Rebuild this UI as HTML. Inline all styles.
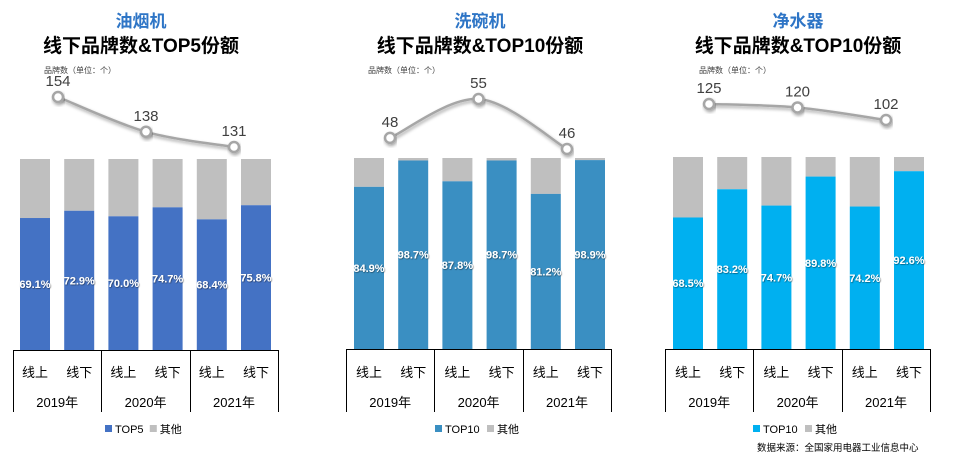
<!DOCTYPE html>
<html><head><meta charset="utf-8">
<style>
html,body{margin:0;padding:0;background:#fff;}
svg{display:block;font-family:"Liberation Sans","Noto Sans CJK SC",sans-serif;}
</style></head>
<body>
<svg id="c" width="956" height="463" viewBox="0 0 956 463" xmlns="http://www.w3.org/2000/svg">
<defs>
<filter id="sh" x="-20%" y="-50%" width="140%" height="200%"><feDropShadow dx="1" dy="2" stdDeviation="1.5" flood-color="#000" flood-opacity="0.35"/></filter>
<filter id="ts"><feDropShadow dx="0.6" dy="0.6" stdDeviation="0.4" flood-color="#000" flood-opacity="0.6"/></filter>
</defs>
</svg>
<script>
// ---- data ----
const panelTitles = ["油烟机","洗碗机","净水器"];
const panelSubtitles = ["线下品牌数&TOP5份额","线下品牌数&TOP10份额","线下品牌数&TOP10份额"];
const seriesNames = ["TOP5","TOP10","TOP10"];
const channelLabels = ["线上","线下"];
const yearLabels = ["2019年","2020年","2021年"];
const shareHood = [69.1,72.9,70.0,74.7,68.4,75.8];
const shareDish = [84.9,98.7,87.8,98.7,81.2,98.9];
const shareWater = [68.5,83.2,74.7,89.8,74.2,92.6];
const brandsHood = [154,138,131];
const brandsDish = [48,55,46];
const brandsWater = [125,120,102];

const shares=[shareHood,shareDish,shareWater];
const brands=[brandsHood,brandsDish,brandsWater];
const colors=["#4472C4","#3A8FC2","#00B0F0"];
// layout per panel
const panels=[
 {x0:20,step:44.2,bw:30,top:159,bot:350,sep0:13,cx:141,lineX0:58,lineStep:88,lineTop:97,lineBot:147,bMin:131,bMax:154,note:44,legX:105},
 {x0:354,step:44.2,bw:30,top:158,bot:349,sep0:346,cx:480,lineX0:390,lineStep:88.5,lineTop:99,lineBot:149,bMin:46,bMax:55,note:368,legX:435},
 {x0:673,step:44.2,bw:30,top:157,bot:349,sep0:665,cx:798,lineX0:709,lineStep:88.5,lineTop:104,lineBot:120,bMin:102,bMax:125,note:699,legX:753}
];
const svg=document.getElementById('c');
const NS="http://www.w3.org/2000/svg";
function mk(tag,attrs,parent,text){const e=document.createElementNS(NS,tag);for(const k in attrs)e.setAttribute(k,attrs[k]);if(text!==undefined)e.textContent=text;(parent||svg).appendChild(e);return e;}

panels.forEach((p,pi)=>{
 const g=mk('g',{});
 
 
 const yS=v=>p.bot-(v/100)*(p.bot-p.top);
 const yB=v=>p.lineBot-(v-p.bMin)/(p.bMax-p.bMin)*(p.lineBot-p.lineTop);
 const t1=mk('text',{x:p.cx,y:27,'text-anchor':'middle','font-size':17,'font-weight':'bold',fill:'#2E75C6'},g,panelTitles[pi]);
 
 
 const t2=mk('text',{x:p.cx,y:52,'text-anchor':'middle','font-size':19,'font-weight':'bold',fill:'#000'},g,panelSubtitles[pi]);
 
 
 const nt=mk('text',{x:p.note,y:73,'font-size':8,fill:'#404040'},g,"品牌数（单位：个）");
 
 
 // bars
 shares[pi].forEach((v,i)=>{
  const x=p.x0+i*p.step;
  const r1=mk('rect',{x:x,y:p.top,width:p.bw,height:yS(v)-p.top,fill:'#BFBFBF'},g);
  
  
  const r2=mk('rect',{x:x,y:yS(v),width:p.bw,height:p.bot-yS(v),fill:colors[pi]},g);
  
  
  const lt=mk('text',{x:x+p.bw/2,y:(yS(v)+p.bot)/2+4,'text-anchor':'middle','font-size':11,'font-weight':'bold',fill:'#fff',filter:'url(#ts)'},g,v.toFixed(1)+'%');
  
  
  const cl=mk('text',{x:x+p.bw/2,y:377,'text-anchor':'middle','font-size':13,fill:'#000'},g,channelLabels[i%2]);
  
  
 });
 // axis
 const sepStep=p.step*2;
 const ax=mk('line',{x1:p.sep0,x2:p.sep0+3*sepStep,y1:p.bot+0.5,y2:p.bot+0.5,stroke:'#000','stroke-width':1},g);
 
 
 for(let k=0;k<=3;k++){
  const sx=Math.round(p.sep0+k*sepStep)+0.5;
  const sl=mk('line',{x1:sx,x2:sx,y1:p.bot,y2:412,stroke:'#000','stroke-width':1},g);
  
  
 }
 yearLabels.forEach((yl,k)=>{
  const t=mk('text',{x:p.sep0+(k+0.5)*sepStep,y:407,'text-anchor':'middle','font-size':13,fill:'#000'},g,yl);
  
  
 });
 // line
 const pts=brands[pi].map((v,i)=>[p.lineX0+i*p.lineStep,yB(v)]);
 let d='M'+pts[0][0]+','+pts[0][1];
 for(let i=0;i<pts.length-1;i++){
  const p0=pts[Math.max(0,i-1)],p1=pts[i],p2=pts[i+1],p3=pts[Math.min(pts.length-1,i+2)];
  const c1=[p1[0]+(p2[0]-p0[0])/6,p1[1]+(p2[1]-p0[1])/6],c2=[p2[0]-(p3[0]-p1[0])/6,p2[1]-(p3[1]-p1[1])/6];
  d+=' C'+c1+' '+c2+' '+p2;
 }
 const ln=mk('path',{d:d,fill:'none',stroke:'#A6A6A6','stroke-width':2.5,filter:'url(#sh)'},g);
 
 
 pts.forEach((q,i)=>{
  const c=mk('circle',{cx:q[0],cy:q[1],r:5,fill:'#fff',stroke:'#A6A6A6','stroke-width':2.5,filter:'url(#sh)'},g);
  
  
  const t=mk('text',{x:q[0],y:q[1]-11,'text-anchor':'middle','font-size':15,fill:'#404040'},g,String(brands[pi][i]));
  
  
 });
 // legend
 const lr=mk('rect',{x:p.legX,y:425,width:7,height:7,fill:colors[pi]},g);
 
 
 const lt1=mk('text',{x:p.legX+10,y:433,'font-size':11,fill:'#000'},g,seriesNames[pi]);
 
 
 const lx2=p.legX+16+seriesNames[pi].length*7.2;
 const lr2=mk('rect',{x:lx2,y:425,width:7,height:7,fill:'#BFBFBF'},g);
 
 
 const lt2=mk('text',{x:lx2+10,y:433,'font-size':11,fill:'#000'},g,"其他");
 
 
});
const src=mk('text',{x:757,y:451,'font-size':9.5,fill:'#000'},svg,"数据来源：全国家用电器工业信息中心");


</script>
</body></html>
